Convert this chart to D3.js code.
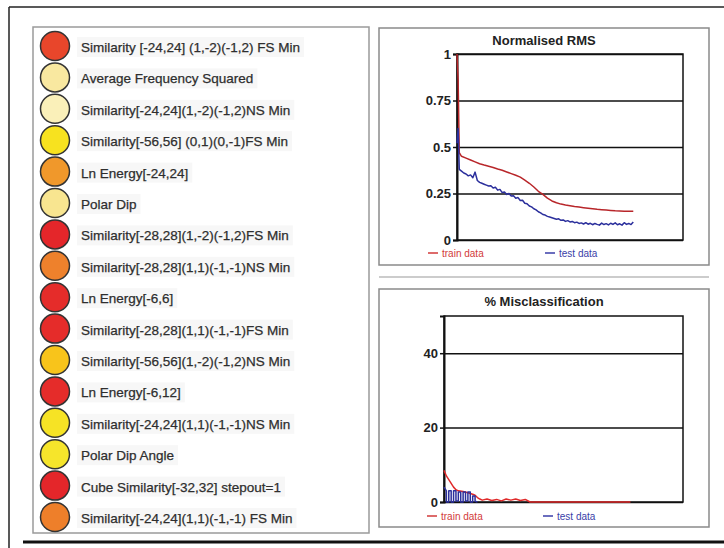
<!DOCTYPE html>
<html>
<head>
<meta charset="utf-8">
<script src="https://cdn.jsdelivr.net/npm/d3@7"></script>
<style>
    body { margin: 0; background: #fff; }
    text { font-family: "Liberation Sans", Arial, sans-serif; }
</style>
</head>
<body>
<div id="chart-div"></div>
<script>
// attribute list (left panel)
const attrNames = [
    "Similarity [-24,24] (1,-2)(-1,2) FS Min",
    "Average Frequency Squared",
    "Similarity[-24,24](1,-2)(-1,2)NS Min",
    "Similarity[-56,56] (0,1)(0,-1)FS Min",
    "Ln Energy[-24,24]",
    "Polar Dip",
    "Similarity[-28,28](1,-2)(-1,2)FS Min",
    "Similarity[-28,28](1,1)(-1,-1)NS Min",
    "Ln Energy[-6,6]",
    "Similarity[-28,28](1,1)(-1,-1)FS Min",
    "Similarity[-56,56](1,-2)(-1,2)NS Min",
    "Ln Energy[-6,12]",
    "Similarity[-24,24](1,1)(-1,-1)NS Min",
    "Polar Dip Angle",
    "Cube Similarity[-32,32] stepout=1",
    "Similarity[-24,24](1,1)(-1,-1) FS Min"
];
const attrColors = [
    "#e8462b", "#f9e8a0", "#faf0b9", "#f7e21f", "#f0982b", "#f8e590",
    "#e4262a", "#ee812c", "#e52c2a", "#e52c2a", "#f8c41b", "#e52c2a",
    "#f6e325", "#f6e52b", "#e4262a", "#ee7f2a"
];

// Normalised RMS
const rmsIter = [0, 0.5, 1, 2, 4, 6, 8, 10, 12, 14, 16, 18, 20, 22, 24, 26, 28, 30, 32, 34, 36, 38, 40,
    42, 44, 46, 48, 50, 52, 54, 56, 58, 60, 62, 64, 66, 68, 70, 72, 74, 76, 78];
const rmsTrain = [1, 0.86, 0.47, 0.45, 0.44, 0.43, 0.42, 0.41, 0.403, 0.397, 0.39, 0.382, 0.375, 0.366,
    0.357, 0.348, 0.338, 0.322, 0.305, 0.285, 0.262, 0.245, 0.225, 0.21, 0.2, 0.193, 0.188, 0.184, 0.18,
    0.177, 0.174, 0.171, 0.168, 0.165, 0.163, 0.161, 0.159, 0.157, 0.156, 0.155, 0.154, 0.155];
// test curve is noisier, read on a finer grid
const rmsTestIter = [0, 0.5, 1, 2, 3, 4, 5, 6, 7, 8, 9, 10, 11, 12, 13, 14, 15, 16, 17, 18, 19, 20, 21, 22,
    23, 24, 25, 26, 27, 28, 29, 30, 31, 32, 33, 34, 35, 36, 37, 38, 39, 40, 41, 42, 43, 44, 45, 46, 47, 48,
    49, 50, 51, 52, 53, 54, 55, 56, 57, 58, 59, 60, 61, 62, 63, 64, 65, 66, 67, 68, 69, 70, 71, 72, 73, 74,
    75, 76, 77, 78];
const rmsTest = [0.52, 0.6, 0.38, 0.37, 0.36, 0.355, 0.345, 0.35, 0.335, 0.365, 0.32, 0.31, 0.305, 0.3,
    0.295, 0.29, 0.292, 0.28, 0.284, 0.268, 0.272, 0.255, 0.258, 0.245, 0.25, 0.236, 0.238, 0.225, 0.228,
    0.212, 0.214, 0.198, 0.195, 0.183, 0.178, 0.168, 0.162, 0.152, 0.146, 0.137, 0.134, 0.127, 0.124, 0.12,
    0.116, 0.112, 0.114, 0.106, 0.108, 0.1, 0.104, 0.097, 0.1, 0.093, 0.096, 0.089, 0.092, 0.086, 0.093,
    0.085, 0.09, 0.082, 0.089, 0.084, 0.08, 0.091, 0.083, 0.088, 0.081, 0.09, 0.084, 0.092, 0.082, 0.087,
    0.08, 0.093, 0.084, 0.089, 0.083, 0.097];
const rmsTicks = [0, 0.25, 0.5, 0.75, 1];

// % Misclassification
const missTrainIter = [0, 1, 2, 3, 4, 5, 6, 8, 10, 12, 13, 14, 15, 16, 18, 20, 22, 24, 26, 28, 30, 32, 34, 36, 78];
const missTrain = [8.5, 7, 6, 5, 4, 3.3, 3, 2.8, 2.5, 2.1, 1.8, 1.2, 0.8, 0.5, 0.8, 0.4, 0.7, 0.3, 0.8, 0.5, 0.8, 0.4, 0.7, 0, 0];
const missTestIter = [0, 1, 1, 2, 2, 3, 3, 4, 4, 5, 5, 6, 6, 7, 7, 8, 8, 9, 9, 10, 10, 11, 11, 12, 12, 13, 13, 14];
const missTest = [4, 3, 0, 0, 3, 3, 0, 0, 3, 3, 0.3, 0.3, 2.7, 2.7, 0, 0, 2.7, 2.7, 0.3, 0.3, 2.7, 2.7, 0, 0, 1.6, 1.6, 0.2, 0];
const missTicks = [0, 20, 40];

const TRAIN_COLOR = "#b8262a";
const TEST_COLOR = "#2b2f9c";

const svg = d3.select("#chart-div")
    .append("svg")
    .attr("width", 724)
    .attr("height", 548);

// outer frame
svg.append("line").attr("x1", 9).attr("y1", 7).attr("x2", 724).attr("y2", 7)
    .attr("stroke", "#222").attr("stroke-width", 1.5);
svg.append("line").attr("x1", 9).attr("y1", 7).attr("x2", 9).attr("y2", 548)
    .attr("stroke", "#222").attr("stroke-width", 1.5);
svg.append("line").attr("x1", 23).attr("y1", 542).attr("x2", 724).attr("y2", 542)
    .attr("stroke", "#111").attr("stroke-width", 3);

// left panel
svg.append("rect")
    .attr("x", 33).attr("y", 27).attr("width", 336).attr("height", 506)
    .attr("fill", "#fff").attr("stroke", "#9a9a9a").attr("stroke-width", 1.5);

let rowScale = d3.scalePoint()
    .domain(attrNames)
    .range([46, 517]);

let rows = svg.append("g")
    .selectAll("g")
    .data(attrNames)
    .enter()
    .append("g")
    .attr("transform", (d) => "translate(0," + rowScale(d) + ")");

rows.append("text")
    .attr("x", 81)
    .attr("y", 6)
    .attr("font-size", 13.5)
    .attr("fill", "#2e2e2e")
    .attr("stroke", "#2e2e2e")
    .attr("stroke-width", 0.25)
    .text((d) => d);

// faint highlight behind each label
rows.each(function () {
    let t = d3.select(this).select("text");
    let w = t.node().getComputedTextLength();
    d3.select(this).insert("rect", "text")
        .attr("x", 77).attr("y", -9).attr("width", w + 8).attr("height", 20)
        .attr("fill", "#f7f7f7");
});

rows.append("circle")
    .attr("cx", 55)
    .attr("cy", 0)
    .attr("r", 14.5)
    .attr("fill", (d, i) => attrColors[i])
    .attr("stroke", "#333")
    .attr("stroke-width", 1.5);

// right panels
svg.append("rect")
    .attr("x", 379).attr("y", 28).attr("width", 330).attr("height", 237)
    .attr("fill", "#fff").attr("stroke", "#8a8a8a").attr("stroke-width", 1.5);
svg.append("line").attr("x1", 379).attr("y1", 277).attr("x2", 709).attr("y2", 277)
    .attr("stroke", "#bbb").attr("stroke-width", 1.5);
svg.append("rect")
    .attr("x", 379).attr("y", 289).attr("width", 330).attr("height", 238)
    .attr("fill", "#fff").attr("stroke", "#8a8a8a").attr("stroke-width", 1.5);

function drawChart(opts) {
    let g = svg.append("g")
        .attr("transform", "translate(" + opts.left + "," + opts.top + ")");
    let w = opts.right - opts.left;
    let h = opts.bottom - opts.top;

    let xScale = d3.scaleLinear().domain([0, 100]).range([0, w]);
    let yScale = d3.scaleLinear().domain(opts.yDomain).range([h, 0]);

    // gridlines
    g.append("g")
        .call(d3.axisLeft(yScale).tickValues(opts.ticks).tickSize(-w).tickFormat(""))
        .call((a) => a.select(".domain").remove())
        .selectAll("line")
        .attr("stroke", "#111")
        .attr("stroke-width", 1.5);

    // plot box
    g.append("rect")
        .attr("x", 0).attr("y", 0).attr("width", w).attr("height", h)
        .attr("fill", "none").attr("stroke", "#111").attr("stroke-width", 1.5);

    // y axis
    let yAxis = g.append("g")
        .call(d3.axisLeft(yScale).tickValues(opts.ticks).tickSize(4).tickPadding(2).tickFormat(opts.fmt));
    yAxis.select(".domain").attr("stroke", "#111").attr("stroke-width", 2);
    yAxis.selectAll("line").attr("stroke", "#111").attr("stroke-width", 1.5);
    yAxis.selectAll("text")
        .attr("font-size", 13)
        .attr("font-weight", "bold")
        .attr("fill", "#222")
        .style("font-family", "'Liberation Sans', Arial, sans-serif");

    let line = d3.line()
        .x((d) => xScale(d[0]))
        .y((d) => yScale(d[1]));

    opts.series.forEach((s) => {
        g.append("path")
            .datum(d3.zip(s.iter, s.values))
            .attr("d", line)
            .attr("fill", "none")
            .attr("stroke", s.color)
            .attr("stroke-width", 1.5)
            .attr("stroke-linejoin", "round");
    });

    // title
    svg.append("text")
        .attr("x", 544)
        .attr("y", opts.titleY)
        .attr("text-anchor", "middle")
        .attr("font-size", 13)
        .attr("font-weight", "bold")
        .attr("fill", "#222")
        .text(opts.title);

    // legend
    let legendItems = [
        { name: "train data", color: "#d23a3a", x: opts.legendX[0] },
        { name: "test data", color: "#3a3ea8", x: opts.legendX[1] }
    ];
    let leg = svg.append("g")
        .selectAll("g")
        .data(legendItems)
        .enter()
        .append("g")
        .attr("transform", (d) => "translate(" + d.x + "," + opts.legendY + ")");
    leg.append("line")
        .attr("x1", 0).attr("x2", 10).attr("y1", 0).attr("y2", 0)
        .attr("stroke", (d) => d.color).attr("stroke-width", 1.5);
    leg.append("text")
        .attr("x", 14).attr("y", 4)
        .attr("font-size", 10)
        .attr("fill", (d) => d.color)
        .text((d) => d.name);
}

drawChart({
    left: 457, right: 683, top: 54, bottom: 240,
    yDomain: [0, 1], ticks: rmsTicks, fmt: d3.format(""),
    title: "Normalised RMS", titleY: 45,
    legendX: [428, 545], legendY: 253,
    series: [
        { iter: rmsIter, values: rmsTrain, color: TRAIN_COLOR },
        { iter: rmsTestIter, values: rmsTest, color: TEST_COLOR }
    ]
});

drawChart({
    left: 444, right: 683, top: 316, bottom: 502,
    yDomain: [0, 50], ticks: missTicks, fmt: d3.format("d"),
    title: "% Misclassification", titleY: 306,
    legendX: [427, 543], legendY: 516,
    series: [
        { iter: missTrainIter, values: missTrain, color: "#e02a2a" },
        { iter: missTestIter, values: missTest, color: TEST_COLOR }
    ]
});
</script>
</body>
</html>
